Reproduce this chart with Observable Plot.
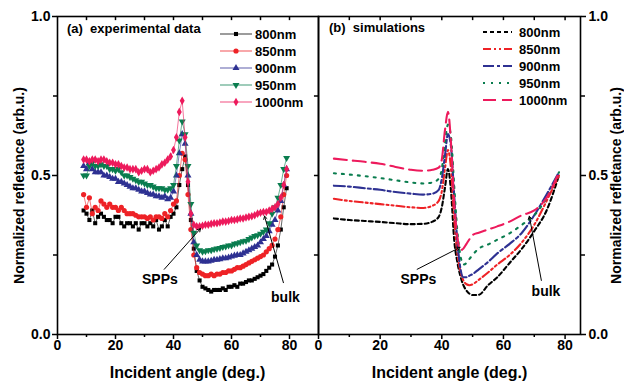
<!DOCTYPE html>
<html><head><meta charset="utf-8">
<script src="https://cdn.jsdelivr.net/npm/d3@7"></script>
<script src="https://cdn.jsdelivr.net/npm/@observablehq/plot@0.6"></script>
<style>
body{margin:0;background:#fff;}
#wrap{position:relative;width:624px;height:383px;overflow:hidden;}
#wrap svg{position:absolute;top:0;}
</style></head><body><div id="wrap"></div>
<script>
// ---------- data ----------
const series = ["800nm", "850nm", "900nm", "950nm", "1000nm"];
const colors = ["#000000", "#ee2226", "#2e3192", "#0a7d4f", "#ed1a5c"];
const symbols = ["square", "circle", "triangle", "triangle", "diamond"];
const symbolRotate = [0, 0, 0, 180, 0];
const dashes = ["4,3", "8,3,2,3,2,3", "11,3,3,3", "2,6", "13,6"];

const expAngles = [
  9,10,11,12,13,14,15,16,17,18,
  19,20,21,22,23,24,25,26,27,28,
  29,30,31,32,33,34,35,36,37,38,
  39,40,41,42,43,44,45,46,47,48,
  49,50,51,52,53,54,55,56,57,58,
  59,60,61,62,63,64,65,66,67,68,
  69,70,71,72,73,74,75,76,77,78,79];
const exp800 = [
  0.39,0.38,0.36,0.39,0.35,0.37,0.38,0.37,0.36,0.36,
  0.35,0.37,0.37,0.35,0.34,0.35,0.35,0.34,0.35,0.33,
  0.35,0.35,0.34,0.35,0.34,0.36,0.33,0.34,0.36,0.34,
  0.37,0.38,0.40,0.47,0.52,0.56,0.47,0.36,0.27,0.20,
  0.17,0.15,0.145,0.14,0.135,0.14,0.14,0.14,0.145,0.14,
  0.15,0.15,0.155,0.15,0.16,0.16,0.165,0.17,0.17,0.175,
  0.18,0.185,0.19,0.20,0.21,0.22,0.245,0.28,0.33,0.40,0.46];
const exp850 = [
  0.44,0.40,0.43,0.38,0.40,0.39,0.42,0.41,0.40,0.41,
  0.40,0.40,0.39,0.40,0.39,0.38,0.38,0.38,0.375,0.37,
  0.37,0.37,0.365,0.37,0.36,0.37,0.37,0.365,0.38,0.37,
  0.39,0.41,0.42,0.50,0.57,0.55,0.44,0.33,0.25,0.21,
  0.195,0.19,0.185,0.185,0.19,0.185,0.19,0.19,0.195,0.195,
  0.20,0.20,0.205,0.21,0.21,0.215,0.22,0.225,0.23,0.235,
  0.24,0.245,0.25,0.26,0.27,0.28,0.30,0.33,0.37,0.44,0.50];
const exp900 = [
  0.53,0.52,0.54,0.52,0.51,0.51,0.51,0.50,0.50,0.495,
  0.49,0.49,0.48,0.48,0.475,0.47,0.465,0.46,0.46,0.455,
  0.45,0.45,0.445,0.44,0.44,0.435,0.435,0.43,0.435,0.425,
  0.43,0.45,0.50,0.57,0.63,0.60,0.50,0.38,0.29,0.25,
  0.235,0.23,0.23,0.23,0.232,0.235,0.235,0.237,0.24,0.24,
  0.242,0.245,0.248,0.25,0.25,0.255,0.26,0.265,0.27,0.275,
  0.28,0.29,0.30,0.31,0.325,0.345,0.36,0.39,0.42,0.47,0.52];
const exp950 = [
  0.50,0.50,0.53,0.54,0.53,0.53,0.535,0.53,0.53,0.52,
  0.52,0.515,0.52,0.51,0.50,0.50,0.495,0.49,0.485,0.48,
  0.48,0.475,0.47,0.47,0.465,0.46,0.46,0.46,0.455,0.455,
  0.46,0.47,0.53,0.61,0.67,0.63,0.53,0.41,0.32,0.28,
  0.265,0.26,0.262,0.265,0.265,0.268,0.27,0.272,0.275,0.277,
  0.28,0.28,0.285,0.287,0.29,0.293,0.295,0.30,0.305,0.31,
  0.312,0.317,0.323,0.33,0.35,0.38,0.40,0.43,0.47,0.52,0.555];
const exp1000 = [
  0.55,0.55,0.545,0.55,0.55,0.545,0.55,0.55,0.545,0.54,
  0.54,0.535,0.535,0.53,0.525,0.525,0.52,0.52,0.52,0.51,
  0.515,0.52,0.52,0.51,0.515,0.52,0.525,0.535,0.54,0.55,
  0.56,0.58,0.62,0.70,0.735,0.62,0.48,0.38,0.345,0.34,
  0.34,0.342,0.345,0.345,0.348,0.35,0.35,0.352,0.355,0.355,
  0.357,0.36,0.36,0.362,0.365,0.365,0.368,0.37,0.372,0.375,
  0.38,0.383,0.385,0.385,0.39,0.395,0.40,0.41,0.43,0.47,0.52];

const simAngles = [5,10,15,20,25,30,34,37,39,40,41,42,43,44,45,46,47,48,49,50,52,55,58,62,66,70,74,78];
const sim800  = [0.365,0.36,0.357,0.354,0.35,0.347,0.348,0.355,0.37,0.40,0.46,0.52,0.45,0.30,0.23,0.185,0.155,0.138,0.128,0.124,0.125,0.155,0.18,0.225,0.27,0.325,0.39,0.50];
const sim850  = [0.427,0.42,0.415,0.41,0.405,0.40,0.398,0.405,0.42,0.45,0.52,0.58,0.52,0.37,0.26,0.20,0.17,0.158,0.155,0.158,0.172,0.195,0.22,0.25,0.29,0.345,0.42,0.50];
const sim900  = [0.468,0.465,0.46,0.455,0.448,0.443,0.44,0.443,0.455,0.49,0.56,0.63,0.59,0.44,0.30,0.21,0.18,0.18,0.185,0.19,0.205,0.228,0.255,0.285,0.32,0.375,0.44,0.51];
const sim950  = [0.507,0.503,0.498,0.492,0.485,0.478,0.475,0.478,0.49,0.52,0.60,0.66,0.62,0.47,0.33,0.25,0.22,0.225,0.238,0.25,0.27,0.283,0.298,0.318,0.345,0.375,0.43,0.51];
const sim1000 = [0.553,0.548,0.543,0.537,0.527,0.518,0.515,0.518,0.525,0.55,0.64,0.70,0.60,0.42,0.31,0.265,0.27,0.285,0.30,0.313,0.32,0.33,0.34,0.355,0.375,0.39,0.43,0.51];

const xTickLabels = [0, 20, 40, 60, 80];
const xMinorTicks = [10, 30, 50, 70];
const yTickLabels = [0, 0.5, 1];
const yMinorTicks = [0.25, 0.75];

const panelTitles = ["(a)  experimental data", "(b)  simulations"];
const xTitle = "Incident angle (deg.)";
const yTitle = "Normalized refletance (arb.u.)";
// annotations: label position and arrow (data units)
const annA = [
  {label: "SPPs", tx: 35.3, ty: 0.172, x1: 36.8, y1: 0.205, x2: 49.3, y2: 0.333},
  {label: "bulk", tx: 78.6, ty: 0.117, x1: 77.9, y1: 0.163, x2: 71.4, y2: 0.372}
];
const annB = [
  {label: "SPPs", tx: 32.4, ty: 0.172, x1: 32.0, y1: 0.205, x2: 45.9, y2: 0.274},
  {label: "bulk", tx: 73.8, ty: 0.135, x1: 72.3, y1: 0.17, x2: 68.4, y2: 0.372}
];

// ---------- build ----------
const expSeries = [exp800, exp850, exp900, exp950, exp1000];
const simSeries = [sim800, sim850, sim900, sim950, sim1000];
const expData = expSeries.map((vals, i) => vals.map((r, j) => ({angle: expAngles[j], r, s: series[i]})));
const simData = simSeries.map((vals, i) => vals.map((r, j) => ({angle: simAngles[j], r, s: series[i]})));

const font = '"Liberation Sans", Arial, Helvetica, sans-serif';
const baseStyle = {fontFamily: font, fontSize: "14px", fontWeight: "bold", background: "transparent", overflow: "visible", color: "#000"};
const SW = 1.5;

function axisMarks(side) {
  const topTicks = [...xMinorTicks, ...xTickLabels.filter(d => d > 0)];
  return [
    Plot.axisX({ticks: xTickLabels, tickFormat: "d", tickSize: 5, tickPadding: 1, label: null, strokeWidth: SW}),
    Plot.axisX({ticks: xMinorTicks, tickFormat: () => "", tickSize: 3, label: null, strokeWidth: SW}),
    Plot.ruleX(topTicks, {y1: 1, y2: 0.987, strokeWidth: SW}),
    Plot.axisY({anchor: side, ticks: yTickLabels, tickFormat: ".1f", tickSize: 5, tickPadding: side === "left" ? 2 : 3, label: null, strokeWidth: SW}),
    Plot.axisY({anchor: side, ticks: yMinorTicks, tickFormat: () => "", tickSize: 4, label: null, strokeWidth: SW}),
  ];
}

function annMarks(ann) {
  return [
    Plot.arrow(ann, {x1: "x1", y1: "y1", x2: "x2", y2: "y2", headLength: 5, strokeWidth: 1, stroke: "#000"}),
    Plot.text(ann, {x: "tx", y: "ty", text: "label", fontSize: 14, fontWeight: "bold", fill: "#000"})
  ];
}

const left = Plot.plot({
  width: 319, height: 383,
  marginLeft: 57, marginRight: 1, marginTop: 16, marginBottom: 49,
  x: {domain: [0, 90]},
  y: {domain: [0, 1]},
  style: baseStyle,
  marks: [
    ...expData.flatMap((d, i) => [
      Plot.line(d, {x: "angle", y: "r", stroke: colors[i], strokeWidth: 1, strokeOpacity: 0.6}),
      Plot.dot(d, {x: "angle", y: "r", symbol: symbols[i], fill: colors[i], stroke: "none", r: i === 0 ? 2.3 : 2.6, rotate: symbolRotate[i]})
    ]),
    ...annMarks(annA),
    Plot.ruleY(yMinorTicks.concat([0.5]), {x1: 88.6, x2: 90, strokeWidth: SW}),
    ...axisMarks("left"),
    Plot.frame({strokeWidth: 1.6})
  ]
});
left.style.left = "0px";

const right = Plot.plot({
  width: 307, height: 383,
  marginLeft: 1, marginRight: 44, marginTop: 16, marginBottom: 49,
  x: {domain: [0, 85]},
  y: {domain: [0, 1]},
  style: baseStyle,
  marks: [
    ...simData.map((d, i) =>
      Plot.line(d, {x: "angle", y: "r", stroke: colors[i], strokeWidth: 2.1, strokeDasharray: dashes[i], curve: "monotone-x"})
    ),
    ...annMarks(annB),
    ...axisMarks("right"),
    Plot.frame({strokeWidth: 1.6})
  ]
});
right.style.left = "317px";

const wrap = document.getElementById("wrap");
wrap.appendChild(left);
wrap.appendChild(right);

// titles, legends
function addText(svg, txt, x, y, size, opts = {}) {
  const t = d3.select(svg).append("text")
    .attr("x", x).attr("y", y)
    .attr("font-family", font).attr("font-weight", "bold").attr("font-size", size)
    .attr("fill", "#000").style("white-space", "pre")
    .attr("text-anchor", opts.anchor || "start")
    .text(txt);
  if (opts.rotate) t.attr("transform", `rotate(-90 ${x} ${y})`);
  if (opts.dy) t.attr("dy", opts.dy);
  return t;
}

// left panel
addText(left, panelTitles[0], 67, 33, 13);
addText(left, xTitle, 187.5, 378, 16, {anchor: "middle"});
addText(left, yTitle, 24, 185.5, 14, {anchor: "middle", rotate: true});
const symMap = {square: d3.symbolSquare, circle: d3.symbolCircle, triangle: d3.symbolTriangle, diamond: d3.symbolDiamond};
const lgA = d3.select(left).append("g");
series.forEach((s, i) => {
  const cy = 34 + i * 17;
  lgA.append("line").attr("x1", 220).attr("x2", 252).attr("y1", cy).attr("y2", cy)
    .attr("stroke", colors[i]).attr("stroke-width", 1.3).attr("stroke-opacity", 0.6);
  const r = i === 0 ? 2.3 : 2.6;
  lgA.append("path").attr("d", d3.symbol(symMap[symbols[i]], Math.PI * r * r)())
    .attr("transform", `translate(236,${cy}) rotate(${symbolRotate[i]})`).attr("fill", colors[i]);
  addText(left, s, 255, cy, 13, {dy: "0.36em"});
});

// right panel (offset 317)
addText(right, panelTitles[1], 329 - 317, 32, 13);
addText(right, xTitle, 449.5 - 317, 378, 16, {anchor: "middle"});
addText(right, yTitle, 621 - 317, 185.5, 14, {anchor: "middle", rotate: true});
const lgB = d3.select(right).append("g");
series.forEach((s, i) => {
  const cy = 32 + i * 17;
  lgB.append("line").attr("x1", 483 - 317).attr("x2", 512 - 317).attr("y1", cy).attr("y2", cy)
    .attr("stroke", colors[i]).attr("stroke-width", 2).attr("stroke-dasharray", dashes[i]);
  addText(right, s, 519 - 317, cy, 13, {dy: "0.36em"});
});
</script>
</body></html>
